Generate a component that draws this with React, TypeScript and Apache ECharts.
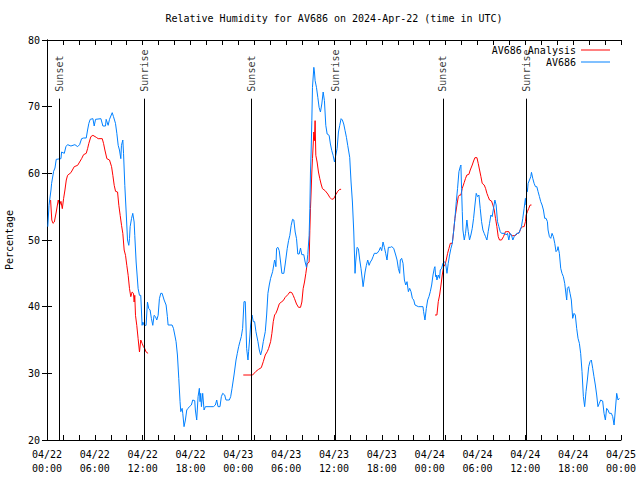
import React, { useEffect, useRef } from "react";
import * as echarts from "echarts";

const FONT = "'DejaVu Sans Mono', 'Liberation Mono', monospace";

// Hours since 2024-04-22 00:00 UTC, relative humidity (%)
const av686Day1: [number, number][] = [
  [0.1, 52], [0.16, 52], [0.25, 55.2], [0.5, 57.5], [0.58, 58.5], [0.83, 60.3], [1.0, 60.8], [1.16, 62.1],
  [1.75, 62.2], [1.83, 63.2], [2.17, 63], [2.37, 64], [2.58, 64.3], [3.0, 64.1], [3.5, 64.3], [3.84, 64],
  [4.09, 64.3], [4.34, 65.2], [4.59, 65.3], [4.92, 65.3], [5.09, 66.5], [5.25, 67.5], [5.42, 68.1], [5.76, 68.2],
  [5.92, 67.1], [6.09, 68.1], [6.76, 68.2], [7.01, 67.1], [7.34, 67.1], [7.42, 68.1], [7.67, 67.2], [7.84, 68.1],
  [8.18, 69.1], [8.34, 68.5], [8.59, 67.5], [8.76, 66], [8.93, 64.2], [9.09, 63.5], [9.26, 62.2], [9.34, 64.2],
  [9.51, 65], [9.6, 63], [9.76, 58.2], [9.93, 54.2], [10.1, 50], [10.26, 49.2], [10.35, 50.2], [10.43, 52],
  [10.6, 53.2], [10.76, 54], [10.93, 52.7], [11.01, 50.7], [11.18, 46.7], [11.43, 42.7], [11.6, 41.7], [11.76, 41.7],
  [11.93, 37.2], [12.02, 37.7], [12.18, 37.2], [12.43, 37.2], [12.6, 40.7], [12.77, 39.7], [12.93, 39.5], [13.1, 38.2],
  [13.27, 37.2], [13.43, 38.7], [13.61, 38.5], [13.77, 38], [13.94, 38.7], [14.1, 41.2], [14.27, 42], [14.44, 42],
  [14.69, 41], [14.94, 40.25], [15.1, 38.5], [15.19, 37.25], [15.69, 37.25], [15.86, 36.75], [16.03, 35.75], [16.19, 34.75],
  [16.36, 32.75], [16.53, 29.25], [16.69, 25.75], [16.78, 24.25], [16.95, 24.75], [17.03, 24], [17.19, 22], [17.36, 23],
  [17.53, 24.5], [17.7, 24.75], [17.86, 25], [18.11, 25.25], [18.28, 26], [18.53, 25.9], [18.61, 24.5], [18.78, 23],
  [18.95, 26.5], [19.11, 27.75], [19.2, 25.75], [19.28, 27], [19.37, 25], [19.53, 27], [19.7, 24.5], [19.87, 25],
  [20.45, 25], [20.87, 25], [21.12, 25.25], [21.29, 26], [21.45, 25], [21.7, 25], [21.87, 26.5], [22.04, 27],
  [22.29, 26.75], [22.45, 26], [22.87, 26], [23.04, 26.5], [23.21, 27.75], [23.46, 29.75], [23.71, 32], [23.87, 33],
];

const av686Day2: [number, number][] = [
  [24.04, 34], [24.2, 34.75], [24.37, 35.5], [24.54, 36.75], [24.71, 40.75], [24.87, 40.75], [24.96, 37.25], [25.04, 33.75],
  [25.21, 32], [25.29, 33.25], [25.46, 35.75], [25.54, 37.25], [25.71, 38.75], [25.88, 37.75], [26.04, 37.75], [26.21, 36.25],
  [26.46, 34.75], [26.63, 33.5], [26.8, 32.75], [26.96, 33.5], [27.13, 34.75], [27.38, 36.25], [27.55, 38.75], [27.71, 42],
  [27.88, 43.25], [28.05, 44.25], [28.3, 45.25], [28.55, 47], [28.63, 46.75], [28.71, 46], [28.8, 48.75], [28.96, 48.9],
  [29.13, 48.4], [29.3, 46.7], [29.46, 45], [29.71, 45], [29.88, 46.4], [30.13, 48.7], [30.3, 49.9], [30.46, 50.7],
  [30.63, 52.2], [30.8, 53.1], [30.96, 53], [31.13, 51.2], [31.3, 50.2], [31.46, 47.9], [31.63, 47.9], [31.8, 48.8],
  [31.96, 47.8], [32.21, 47.8], [32.38, 46.7], [32.55, 45.9], [32.71, 47.8], [32.88, 50.7], [32.97, 54.7], [33.05, 60.2],
  [33.13, 63.2], [33.22, 67.9], [33.3, 72.9], [33.47, 75.9], [33.55, 75.2], [33.63, 73.9], [33.8, 72.9], [33.97, 71.4],
  [34.13, 69.9], [34.3, 69.2], [34.47, 70.4], [34.64, 72.2], [34.8, 70.9], [34.97, 67.2], [35.14, 65.9], [35.39, 65.7],
  [35.55, 64.4], [35.72, 63.4], [35.89, 62.7], [36.06, 61.7], [36.22, 62.7], [36.39, 63.7], [36.56, 66.2], [36.72, 67.2],
  [36.89, 68.2], [37.05, 68], [37.22, 67.4], [37.39, 66.4], [37.56, 65.4], [37.72, 64.2], [37.97, 62.4], [38.14, 58.7],
  [38.31, 55.7], [38.48, 51.2], [38.64, 45], [38.72, 46.7], [38.89, 48.9], [39.06, 48.7], [39.23, 47], [39.39, 45.7],
  [39.56, 44], [39.65, 43], [39.73, 43.7], [39.9, 45.2], [40.06, 46.2], [40.23, 47], [40.4, 46.2], [40.56, 46.7],
  [40.73, 47], [40.9, 47.5], [41.06, 48], [41.4, 48], [41.65, 48.4], [41.82, 48.9], [41.98, 48.4], [42.15, 49.7],
  [42.32, 48.9], [42.48, 48], [42.65, 47], [42.82, 48.9], [43.07, 48.9], [43.24, 49], [43.49, 48.75], [43.74, 47.75],
  [43.91, 47], [44.07, 45.75], [44.24, 45], [44.32, 47], [44.49, 47.25], [44.66, 46.5], [44.83, 44], [45.0, 43.25],
  [45.16, 43.75], [45.33, 42.25], [45.49, 42.75], [45.66, 42.25], [45.83, 41.25], [46.0, 41], [46.16, 40.25], [46.58, 40],
  [47.16, 40], [47.24, 39.25], [47.41, 38], [47.58, 39.75], [47.75, 41], [47.91, 41.5],
];

const av686Day3: [number, number][] = [
  [48.08, 42.25], [48.25, 43.25], [48.42, 44.75], [48.58, 45.75], [48.66, 46], [48.75, 44.5], [48.83, 44.75], [48.91, 44],
  [49.08, 44.75], [49.24, 44.25], [49.33, 45.5], [49.5, 45.75], [49.67, 46.5], [49.84, 46.75], [50.0, 46.5], [50.17, 45],
  [50.33, 46.5], [50.5, 47.75], [50.67, 48.75], [50.84, 49.5], [51.0, 51.25], [51.17, 53.25], [51.34, 55.75], [51.5, 57.75],
  [51.67, 60.25], [51.84, 61], [51.92, 61.25], [52.0, 57.75], [52.09, 54.25], [52.17, 51.5], [52.34, 50], [52.5, 51],
  [52.67, 53], [52.84, 51.25], [53.0, 50], [53.17, 50.75], [53.34, 51.75], [53.51, 53.25], [53.68, 55.25], [53.84, 57],
  [54.01, 56.5], [54.18, 56.75], [54.34, 54.75], [54.51, 52.75], [54.68, 51.5], [54.84, 51], [55.01, 50.5], [55.18, 50],
  [55.34, 51.25], [55.51, 52.5], [55.68, 53.75], [55.84, 53.5], [56.01, 54.75], [56.18, 56], [56.34, 55.25], [56.51, 52.75],
  [56.68, 52], [56.85, 51.25], [57.01, 51], [57.43, 51], [57.6, 50.75], [57.76, 51], [57.93, 50], [58.09, 51],
  [58.26, 50.75], [58.43, 50], [58.6, 50.5], [58.76, 50.75], [58.93, 51], [59.18, 51], [59.35, 51.5], [59.51, 52],
  [59.68, 53.25], [59.85, 54.75], [60.01, 56.25], [60.1, 55.25], [60.18, 57.75], [60.26, 57.25], [60.35, 58.5], [60.52, 59],
  [60.68, 59.5], [60.77, 60.15], [60.93, 59.25], [61.1, 58.5], [61.27, 58], [61.44, 58], [61.6, 57.25], [61.77, 56.5],
  [61.93, 55.75], [62.1, 55.25], [62.27, 54.5], [62.43, 53.25], [62.6, 53.25], [62.77, 52.75], [62.85, 51.5], [63.02, 50.5],
  [63.19, 50.25], [63.35, 51], [63.52, 50.5], [63.69, 49.5], [63.85, 48.25], [64.02, 48.5], [64.1, 49], [64.27, 48],
  [64.44, 45.75], [64.6, 45], [64.77, 44.5], [64.94, 43.5], [65.11, 41.75], [65.19, 41], [65.27, 42.75], [65.44, 43],
  [65.61, 42], [65.77, 41], [65.94, 38.25], [66.11, 39], [66.27, 38.75], [66.44, 36.75], [66.61, 35.25], [66.78, 34.5],
  [66.94, 33], [67.11, 30.25], [67.28, 26.5], [67.44, 25], [67.61, 27.25], [67.78, 29], [67.95, 31], [68.11, 31.75],
  [68.28, 32], [68.45, 30.75], [68.61, 29.5], [68.78, 28.25], [68.95, 26.75], [69.11, 25], [69.28, 25.5], [69.45, 26],
  [69.7, 25.85], [69.87, 24], [70.04, 23], [70.2, 24.75], [70.37, 24.5], [70.54, 24], [70.79, 24], [70.96, 23.5],
  [71.13, 22.25], [71.29, 24.5], [71.46, 27], [71.63, 26], [71.8, 26.25],
];

const analysisSeg1: [number, number][] = [
  [0.45, 56], [0.6, 53], [0.75, 52.5], [0.92, 52.7], [1.16, 54.2], [1.41, 56], [1.58, 55.2], [1.75, 55.8],
  [1.92, 54.7], [2.08, 56.2], [2.25, 57.5], [2.42, 59], [2.58, 59.7], [3.0, 60.1], [3.42, 61], [3.84, 61.2],
  [4.09, 61.7], [4.34, 62.2], [4.59, 62.8], [4.92, 63], [5.09, 63.7], [5.25, 64.5], [5.5, 65.5], [5.76, 65.7],
  [6.18, 65.4], [6.42, 65.2], [6.93, 65.2], [7.09, 64.5], [7.26, 63.5], [7.51, 62.2], [7.84, 62], [8.1, 61],
  [8.26, 59.7], [8.43, 58.2], [8.6, 57.3], [8.85, 57.2], [9.01, 55.2], [9.18, 53.7], [9.35, 52.2], [9.51, 51],
  [9.68, 48.5], [9.85, 47.7], [10.01, 46.2], [10.18, 44.7], [10.35, 42.7], [10.51, 41.5], [10.68, 42.2], [10.85, 42],
  [10.93, 40.7], [11.01, 41.7], [11.1, 38.7], [11.26, 37.2], [11.43, 35.2], [11.6, 33.2], [11.76, 35], [11.93, 34.5],
  [12.1, 34], [12.27, 33.7], [12.43, 33.2], [12.68, 33],
];

const analysisSeg2: [number, number][] = [
  [24.62, 29.75], [25.79, 29.75], [26.21, 30.3], [26.54, 30.6], [26.88, 30.85], [27.13, 31.75], [27.38, 32.75], [27.63, 33.25],
  [27.8, 33.75], [28.05, 34.75], [28.21, 36], [28.38, 37.75], [28.55, 38.75], [28.71, 39], [28.88, 39.5], [29.13, 40.4],
  [29.38, 40.7], [29.63, 40.9], [29.88, 41.4], [30.21, 41.8], [30.46, 42.2], [30.71, 42.1], [30.88, 41.7], [31.05, 41.2],
  [31.3, 40.4], [31.55, 39.9], [31.8, 39.9], [31.97, 40.7], [32.13, 42.7], [32.3, 43.7], [32.47, 45], [32.63, 46.4],
  [32.88, 46.7], [32.97, 51.4], [33.05, 54.7], [33.13, 57.2], [33.22, 60.2], [33.3, 62.2], [33.47, 66.2], [33.55, 64.9],
  [33.63, 67.9], [33.72, 62.7], [33.88, 61.7], [34.05, 60.2], [34.22, 59.2], [34.38, 58.4], [34.55, 57.7], [34.89, 57.4],
  [35.22, 56.9], [35.47, 56.4], [35.72, 56.1], [35.97, 56.2], [36.22, 56.8], [36.47, 57.3], [36.72, 57.6], [36.89, 57.6],
];

const analysisSeg3: [number, number][] = [
  [48.67, 38.75], [48.91, 38.75], [49.08, 40.75], [49.25, 41.75], [49.42, 43.25], [49.58, 44.75], [49.75, 46], [49.92, 46.25],
  [50.08, 47], [50.25, 48], [50.42, 48.75], [50.59, 49.5], [50.84, 49.5], [51.0, 51.25], [51.17, 53.25], [51.42, 55.25],
  [51.59, 56.5], [51.75, 56.75], [51.92, 56.75], [52.09, 57.75], [52.34, 58.65], [52.5, 59.25], [52.67, 59.75], [52.92, 59.85],
  [53.09, 60.5], [53.34, 61.25], [53.51, 61.85], [53.68, 62.35], [53.93, 62.35], [54.09, 61.5], [54.26, 60.5], [54.43, 59.5],
  [54.59, 58.5], [54.84, 58.25], [55.01, 57.75], [55.18, 57], [55.34, 56.5], [55.51, 56], [55.76, 55.85], [55.93, 55.25],
  [56.1, 54.5], [56.26, 53.25], [56.43, 52], [56.6, 50.5], [56.76, 50], [57.01, 50], [57.26, 50.5], [57.51, 51.25],
  [57.68, 51.25], [57.93, 51.25], [58.09, 50.85], [58.35, 50.65], [58.6, 50.65], [58.84, 50.75], [59.01, 51], [59.26, 51.15],
  [59.43, 51.75], [59.68, 52], [59.85, 52], [60.01, 52.75], [60.1, 53.75], [60.26, 54.25], [60.43, 54.75], [60.6, 55.25],
  [60.77, 55.25],
];

const sunEventHours = [1.58, 12.22, 25.62, 36.14, 49.66, 60.16];
const sunEventLabels = ["Sunset", "Sunrise", "Sunset", "Sunrise", "Sunset", "Sunrise"];
const sunLineTop = 71.2;
const sunLabelBase = 72.1;

const TITLE = "Relative Humidity for AV686 on 2024-Apr-22 (time in UTC)";

const xLabel = (v: number) => {
  const d = 22 + Math.floor(v / 24);
  const hh = Math.round(v % 24);
  return `04/${d}\n${String(hh).padStart(2, "0")}:00`;
};

export default function App() {
  const ref = useRef<HTMLDivElement>(null);
  useEffect(() => {
    const chart = echarts.init(ref.current!, null, { renderer: "svg" });
    const baseText = { fontFamily: FONT, fontSize: 10, color: "#000" };
    const tick = { inside: true, length: 5, lineStyle: { color: "#000", width: 1 } };
    const minor = { show: true, splitNumber: 3, length: 5, lineStyle: { color: "#000", width: 1 } };
    const xCommon = {
      type: "value",
      min: 0,
      max: 72,
      interval: 6,
      axisLine: { show: true, lineStyle: { color: "#000", width: 1 } },
      axisTick: tick,
      minorTick: minor,
      splitLine: { show: false },
      minorSplitLine: { show: false },
    };
    const yCommon = {
      type: "value",
      min: 20,
      max: 80,
      interval: 10,
      axisLine: { show: true, lineStyle: { color: "#000", width: 1 } },
      axisTick: tick,
      splitLine: { show: false },
    };
    const legendCommon = {
      right: 30,
      padding: 0,
      align: "right",
      orient: "vertical",
      icon: "rect",
      itemWidth: 29,
      itemHeight: 1,
      textStyle: baseText,
      selectedMode: false,
    };
    chart.setOption({
      animation: false,
      backgroundColor: "#fff",
      title: {
        text: TITLE,
        left: 334,
        textAlign: "center",
        top: 13,
        padding: 0,
        textStyle: { ...baseText, fontWeight: "normal" },
      },
      legend: [
        { ...legendCommon, data: ["AV686 Analysis"], top: 45 },
        { ...legendCommon, data: ["AV686"], top: 57 },
      ],
      grid: { left: 47, right: 19, top: 40, bottom: 40, containLabel: false, outerBoundsMode: "none" },
      xAxis: [
        {
          ...xCommon,
          position: "bottom",
          axisLabel: { ...baseText, formatter: xLabel, margin: 7, lineHeight: 14, showMinLabel: true, showMaxLabel: true },
        },
        { ...xCommon, position: "top", axisLabel: { show: false } },
      ],
      yAxis: [
        {
          ...yCommon,
          position: "left",
          name: "Percentage",
          nameLocation: "middle",
          nameGap: 33,
          nameTextStyle: baseText,
          axisLabel: { ...baseText, margin: 7 },
        },
        { ...yCommon, position: "right", axisLabel: { show: false } },
      ],
      series: [
        {
          name: "AV686 Analysis",
          type: "line",
          xAxisIndex: 0,
          yAxisIndex: 0,
          symbol: "none",
          showSymbol: false,
          connectNulls: false,
          lineStyle: { color: "#ff0000", width: 1 },
          itemStyle: { color: "#ff0000" },
          data: [...analysisSeg1, [18, "-"], ...analysisSeg2, [42, "-"], ...analysisSeg3],
        },
        {
          name: "AV686",
          type: "line",
          xAxisIndex: 0,
          yAxisIndex: 0,
          symbol: "none",
          showSymbol: false,
          lineStyle: { color: "#0080ff", width: 1 },
          itemStyle: { color: "#0080ff" },
          data: [...av686Day1, ...av686Day2, ...av686Day3],
        },
        {
          name: "sun",
          type: "scatter",
          xAxisIndex: 0,
          yAxisIndex: 0,
          symbolSize: 0,
          silent: true,
          label: {
            show: true,
            position: "inside",
            formatter: "{b}",
            rotate: 90,
            align: "left",
            verticalAlign: "middle",
            offset: [1, 0],
            ...baseText,
          },
          data: sunEventHours.map((h, i) => ({ name: sunEventLabels[i], value: [h, sunLabelBase] })),
          markLine: {
            silent: true,
            symbol: ["none", "none"],
            label: { show: false },
            lineStyle: { color: "#000", width: 1, type: "solid" },
            data: sunEventHours.map((h) => [{ coord: [h, 20] }, { coord: [h, sunLineTop] }]),
          },
        },
      ],
    });
    return () => chart.dispose();
  }, []);
  return <div ref={ref} style={{ position: "fixed", left: 0, top: 0, width: 640, height: 480 }} />;
}
